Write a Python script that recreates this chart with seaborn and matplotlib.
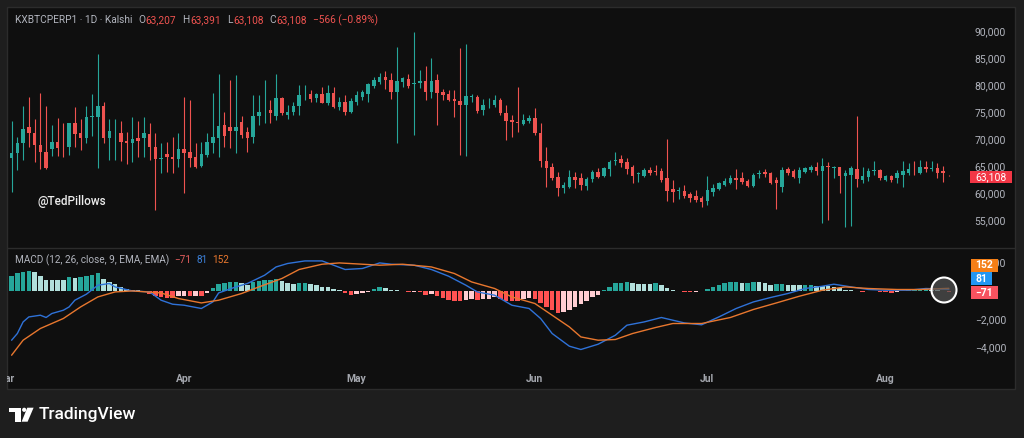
import numpy as np
import pandas as pd
import matplotlib
matplotlib.use("Agg")
import matplotlib.pyplot as plt
import seaborn as sns
from matplotlib.patches import Rectangle, Ellipse, Polygon
from matplotlib.lines import Line2D

# ---- daily candles, Mar 2 .. Aug 12 ----
opens = [
    66540, 67350, 69200, 72280, 71060, 68890, 67650, 68150, 69390, 68950,
    68570, 72910, 71060, 70130, 74050, 74130, 76110, 70130, 71400, 71170,
    69630, 69200, 70130, 70130, 70870, 68570, 66380, 67220, 66670, 66300,
    68150, 67650, 66670, 65000, 67040, 69310, 70130, 72590, 72280, 71540,
    73200, 71350, 70430, 74260, 75100, 75370, 74260, 77650, 74440, 75060,
    76110, 78100, 78280, 77540, 78280, 76610, 78460, 75980, 76800, 75060,
    76800, 77830, 78280, 79870, 80500, 81540, 80930, 78760, 80500, 81060,
    80250, 80320, 80740, 78760, 80930, 78760, 78330, 77410, 77040, 76300,
    77830, 77830, 75370, 76050, 76300, 77220, 74870, 73520, 73200, 72780,
    73390, 73830, 71170, 65980, 64870, 63020, 60870, 61170, 63020, 62720,
    61300, 62540, 63940, 63190, 64390, 65900, 66240, 65800, 64870, 63600,
    63150, 64260, 64000, 64070, 62720, 60740, 60370, 60430, 59810, 59440,
    59130, 58570, 60240, 60680, 61480, 61910, 62720, 62720, 62280, 61300,
    63600, 63890, 63650, 62410, 61040, 64390, 64130, 62720, 63830, 64260,
    64870, 64130, 64930, 64700, 64760, 63150, 63330, 64390, 62410, 63020,
    64050, 64260, 62410, 63150, 62720, 63330, 63650, 64320, 63760, 64760,
    64520, 64690, 64130, 63207]
highs = [
    73330, 70430, 76110, 77720, 73700, 78570, 76110, 72590, 73940, 73020,
    72960, 75980, 73700, 76110, 78280, 85690, 76800, 73700, 73700, 73330,
    71350, 74130, 73330, 74130, 73020, 71060, 69310, 69500, 70430, 71060,
    77830, 77220, 69200, 69500, 71060, 78460, 82040, 75060, 80930, 81850,
    74260, 72280, 78150, 78150, 80930, 77220, 82040, 77830, 76300, 76910,
    80000, 80000, 79070, 78460, 79690, 80000, 79690, 77830, 78150, 77540,
    78890, 79070, 80320, 81540, 82170, 82590, 82170, 87090, 81540, 81980,
    89870, 82780, 83570, 84940, 81980, 79200, 79070, 79070, 86800, 87540,
    78330, 78150, 77350, 77540, 78150, 77540, 76300, 74440, 79690, 74570,
    74440, 75690, 73020, 68570, 65500, 63940, 62090, 64260, 63940, 63650,
    63020, 64260, 64570, 64870, 66110, 67650, 67040, 66430, 65190, 63940,
    64570, 64870, 65190, 64570, 69940, 62410, 61060, 61480, 60240, 60560,
    59440, 63150, 61670, 62090, 62720, 63330, 64390, 63940, 62540, 63650,
    64260, 64390, 63940, 62910, 64870, 64760, 64390, 64870, 64870, 65190,
    65800, 66430, 65800, 65000, 64870, 64260, 65000, 74260, 64870, 64570,
    65980, 64390, 63330, 63330, 64260, 65980, 65610, 65980, 66110, 65980,
    65980, 65610, 65000, 63391]
lows = [
    60240, 64260, 66110, 68570, 65690, 64440, 64440, 66910, 66910, 66720,
    67040, 68570, 67960, 69200, 70610, 64690, 69200, 66110, 66110, 65930,
    65370, 65690, 66720, 66720, 66110, 56850, 63650, 63940, 63650, 64870,
    60000, 64870, 64570, 64850, 66720, 67350, 66720, 68570, 68330, 67410,
    70130, 67650, 69260, 72590, 72910, 72910, 73520, 74440, 73650, 74440,
    74440, 77220, 76910, 76910, 76610, 76300, 75690, 75370, 74440, 74760,
    76300, 77220, 76910, 79390, 80130, 79260, 77410, 69200, 79690, 79500,
    70740, 79500, 77220, 77540, 72590, 77220, 77040, 74130, 67040, 66910,
    76910, 74760, 74440, 75690, 75980, 74440, 69810, 70430, 71350, 72590,
    72910, 70740, 64870, 61170, 62410, 59440, 59940, 60870, 60870, 60560,
    60560, 62090, 62720, 63020, 63190, 65190, 64870, 63520, 61800, 62090,
    63020, 63330, 63330, 62090, 58570, 58390, 58830, 59020, 58390, 58390,
    57350, 57780, 59440, 60560, 61300, 61670, 60680, 61670, 61060, 61170,
    62720, 63020, 61670, 56980, 60240, 63330, 62720, 61800, 63650, 63940,
    63330, 54500, 55000, 62720, 60050, 53650, 53890, 61170, 61910, 62280,
    63330, 62410, 62280, 62090, 61910, 61060, 63330, 63330, 63520, 63940,
    64130, 62720, 62090, 63108]
closes = [
    67460, 69200, 71850, 71060, 68890, 67540, 64690, 69390, 68390, 68850,
    72910, 70870, 70130, 74130, 74200, 76110, 70130, 71480, 71550, 69500,
    69200, 69940, 69630, 71170, 68570, 66300, 66480, 66670, 66300, 68150,
    67410, 66430, 64810, 67220, 69500, 70430, 72410, 70560, 71480, 72220,
    70740, 70130, 74260, 75060, 75250, 74760, 77540, 74760, 75060, 76110,
    78150, 78200, 77350, 78280, 76720, 78460, 75980, 76800, 75060, 77040,
    78150, 78760, 80130, 80930, 81430, 80930, 78760, 80740, 81240, 79870,
    80380, 80740, 78760, 80740, 78460, 78150, 77220, 77040, 76300, 77960,
    78000, 75240, 76300, 76180, 77220, 74760, 73390, 73200, 72910, 73520,
    73830, 71170, 65980, 64570, 62720, 60870, 61480, 63020, 62410, 61480,
    62540, 63940, 63020, 64570, 65800, 66000, 65500, 64390, 63150, 63700,
    64260, 63760, 63900, 62410, 60430, 60240, 60480, 59440, 59020, 58700,
    58390, 60560, 60980, 61910, 62280, 62830, 62410, 62090, 61300, 63330,
    63700, 63520, 61910, 61800, 64260, 63760, 63020, 64260, 64690, 64870,
    64130, 65000, 64820, 64800, 63150, 63760, 64570, 62540, 63150, 64130,
    64180, 62720, 63150, 62410, 63650, 64130, 64390, 64200, 64760, 64390,
    64620, 63650, 63674, 63108]

# ---- MACD pane ----
hist = [
    1027, 1213, 1330, 1377, 1283, 1027, 760, 745, 735, 730,
    933, 863, 980, 1027, 1097, 1213, 793, 607, 467, 280,
    117, 47, 15, -20, -233, -373, -467, -537, -545, -373,
    -350, -373, -350, -373, -140, 163, 467, 560, 607, 630,
    513, 397, 630, 700, 747, 750, 793, 700, 560, 467,
    513, 515, 467, 397, 280, 233, 93, 10, -187, -303,
    -233, -187, -93, 93, 233, 210, 47, 10, -10, -93,
    -70, -117, -303, -233, -373, -537, -653, -700, -723, -653,
    -607, -653, -607, -600, -467, -607, -700, -723, -730, -607,
    -537, -607, -887, -1120, -1353, -1540, -1520, -1353, -1120, -933,
    -700, -467, -303, 10, 280, 513, 560, 630, 513, 467,
    460, 455, 513, 397, 163, 47, -10, -70, -75, -70,
    -65, 93, 233, 397, 560, 565, 570, 513, 560, 630,
    620, 513, 397, 443, 450, 397, 390, 385, 392, 400,
    350, 327, 320, 233, 163, 47, 40, -10, -93, -47,
    -45, -93, -117, -140, -93, -23, 47, 50, 93, 95,
    47, 30, -20, -71]
macd_days = [0, 1, 2, 3, 5, 6, 7, 9, 10, 11, 13, 15, 17, 18, 21, 24, 26, 28, 30, 33,
             35, 36, 39, 41, 44, 46, 48, 51, 54, 56, 58, 61, 64, 66, 70, 73, 76, 79, 81, 84,
             87, 90, 92, 94, 97, 99, 102, 105, 107, 110, 113, 115, 117, 120, 123, 126, 129, 132, 135, 138,
             141, 143, 146, 149, 152, 156, 159, 163]
macd_vals = [-3480, -3010, -2200, -1850, -1730, -1890, -1610, -1380, -1150, -680,
             -260, 370, 490, 250, -30, -100, -680, -960, -1030, -1260,
             -800, -170, 250, 490, 1070, 1650, 1890, 2070, 2070, 1770,
             1470, 1540, 1930, 1840, 1770, 1470, 1000, 370, -100, -330,
             -1030, -1260, -1960, -3010, -3900, -4130, -3760, -3130, -2430, -2200,
             -1890, -2080, -2270, -2400, -1850, -1260, -800, -490, -210, 140,
             300, 440, 250, 70, 20, 20, 140, 81]
signal_days = [0, 2, 5, 9, 12, 15, 18, 21, 26, 29, 33, 36, 40, 43, 47, 50, 54, 57, 61, 64,
               68, 73, 77, 80, 84, 87, 91, 94, 97, 99, 102, 105, 108, 112, 115, 120, 125, 129, 133, 137,
               141, 145, 149, 154, 158, 163]
signal_vals = [-4530, -3480, -2660, -1960, -1150, -450, -100, -30, -170, -560,
               -870, -680, -210, 250, 840, 1470, 1840, 1930, 1840, 1770,
               1840, 1650, 1190, 600, 140, -450, -910, -1730, -2550, -3250,
               -3480, -3430, -3010, -2590, -2310, -2310, -1890, -1330, -870, -400,
               20, 250, 140, 70, 70, 152]

price_ticks = [55000, 60000, 65000, 70000, 75000, 80000, 85000, 90000]
macd_ticks = [-4000, -2000, 2000]
months = ["2025-03-01", "2025-04-01", "2025-05-01", "2025-06-01", "2025-07-01", "2025-08-01"]
month_labels = ["Mar", "Apr", "May", "Jun", "Jul", "Aug"]

GREEN = "#26a69a"
RED = "#ef5350"
GRAY = "#b2b5be"
BG = "#0f0f0f"

W, H = 1024, 438


def fx(px):
    return px / W


def fy(py):
    return 1 - py / H


def text_row(fig, pieces, x0, y, size):
    """Lay coloured text pieces left to right, each after the one before."""
    renderer = fig.canvas.get_renderer()
    x = x0
    for t, gap, c in pieces:
        x += gap
        txt = fig.text(fx(x), fy(y), t, ha="left", va="center", fontsize=size, color=c)
        x = txt.get_window_extent(renderer).x1


sns.set_theme(style="dark", rc={"axes.facecolor": BG, "figure.facecolor": "#1e1e1e"})
plt.rcParams["font.family"] = ["Roboto", "DejaVu Sans"]

fig = plt.figure(figsize=(10.24, 4.38), dpi=100)
fig.add_artist(Rectangle((fx(7), fy(389)), (1015 - 7) / W, (389 - 7) / H,
                         transform=fig.transFigure, facecolor=BG,
                         edgecolor="#2c2c2c", lw=1, zorder=-5))

ax_p = fig.add_axes([fx(7), fy(247), (962 - 7) / W, (247 - 7) / H])
ax_m = fig.add_axes([fx(7), fy(389), (962 - 7) / W, (389 - 248) / H])
fig.add_artist(Line2D([fx(7), fx(1015)], [fy(247.5), fy(247.5)],
                      transform=fig.transFigure, color="#2c2c2c", lw=1))

dates = pd.date_range("2025-03-02", periods=len(closes), freq="D")
df = pd.DataFrame({"date": dates, "open": opens, "high": highs,
                   "low": lows, "close": closes})
up = df["close"] >= df["open"]
cols = np.where(up, GREEN, RED)
body_lo = np.minimum(df["open"], df["close"])
body_h = np.maximum((df["close"] - df["open"]).abs(), 130)

ax_p.vlines(df["date"], df["low"], df["high"], colors=cols, lw=0.8, zorder=2)
ax_p.bar(df["date"], body_h, bottom=body_lo, width=0.62, color=cols, linewidth=0, zorder=3)

x_left = dates[0] - pd.Timedelta(days=0.8)
x_right = dates[0] + pd.Timedelta(days=165.28)
for ax in (ax_p, ax_m):
    ax.set_xlim(x_left, x_right)
    ax.set_facecolor("none")
    ax.set_xticks([])
    for s in ax.spines.values():
        s.set_visible(False)
    ax.grid(False)

ax_p.set_ylim(50000, 94445)
ax_p.yaxis.tick_right()
ax_p.set_yticks(price_ticks)
ax_p.set_yticklabels([f"{v:,}" for v in price_ticks])

# MACD histogram, colour by sign and direction
hcols = []
for i, h in enumerate(hist):
    prev = hist[i - 1] if i > 0 else h
    if h >= 0:
        hcols.append("#26a69a" if h >= prev else "#b2dfdb")
    else:
        hcols.append("#ff5252" if h < prev else "#ffcdd2")
ax_m.bar(dates, hist, width=0.8, color=hcols, linewidth=0, zorder=2)

sns.lineplot(x=dates[macd_days], y=macd_vals, ax=ax_m, color="#2f72d8", lw=1, zorder=3)
sns.lineplot(x=dates[signal_days], y=signal_vals, ax=ax_m, color="#e8772e", lw=1, zorder=3)

ax_m.set_ylim(-6895, 2975)
ax_m.set_xlabel("")
ax_m.set_ylabel("")
ax_m.yaxis.tick_right()
ax_m.set_yticks(macd_ticks)
ax_m.set_yticklabels([f"{v:,}".replace("-", "\u2212") for v in macd_ticks])

for ax in (ax_p, ax_m):
    ax.tick_params(axis="y", length=0, pad=31.7, labelsize=7.5, labelcolor=GRAY)
    for lbl in ax.get_yticklabels():
        lbl.set_ha("right")

y_month = (290.5 - 379) * 70
for m, lab in zip(months, month_labels):
    ax_m.text(pd.Timestamp(m), y_month, lab, ha="center", va="center", fontsize=7.5,
              fontweight="bold", color="#a3a6ad", clip_on=True)

# header line
hdr = [("KXBTCPERP1 \u00b7 1D \u00b7 Kalshi", 0, GRAY), ("O", 6, GRAY), ("63,207", 0.5, RED),
       ("H", 6, GRAY), ("63,391", 0.5, RED), ("L", 6, GRAY), ("63,108", 0.5, RED),
       ("C", 6, GRAY), ("63,108", 0.5, RED), ("\u2212566 (\u22120.89%)", 6, RED)]
text_row(fig, hdr, 15, 20, 7.3)

mh = [("MACD (12, 26, close, 9, EMA, EMA)", 0, GRAY), ("\u221271", 5, "#e35d5d"),
      ("81", 5, "#3c80d8"), ("152", 5, "#e8772e")]
text_row(fig, mh, 15, 260, 7.2)

fig.text(fx(37), fy(202), "@TedPillows", ha="left", va="center", fontsize=8.5,
         color="#ececec", fontweight="medium")

# last price tag
fig.add_artist(Rectangle((fx(970), fy(183)), 42 / W, 12 / H, transform=fig.transFigure,
                         facecolor="#f23645", lw=0))
fig.text(fx(991), fy(177), "63,108", ha="center", va="center", fontsize=7.5, color="white")

# MACD value tags
for (t, y0, y1, w, c) in [("152", 259, 272, 27, "#f57f17"), ("81", 272, 285, 21, "#2196f3"),
                          ("\u221271", 286, 299, 27, "#f7525f")]:
    fig.add_artist(Rectangle((fx(971), fy(y1)), w / W, (y1 - y0) / H,
                             transform=fig.transFigure, facecolor=c, lw=0))
    fig.text(fx(971 + w / 2), fy((y0 + y1) / 2), t, ha="center", va="center",
             fontsize=7.5, color="white", fontweight="bold")

# highlight ring around the latest MACD values
fig.add_artist(Ellipse((fx(944), fy(290)), 25 / W, 25 / H, transform=fig.transFigure,
                       facecolor=(0.33, 0.33, 0.33, 0.7), edgecolor="white", lw=1.5))

# footer logo
tv = dict(transform=fig.transFigure, facecolor="white", lw=0)
fig.add_artist(Polygon([(fx(9.3), fy(407.7)), (fx(20.7), fy(407.7)), (fx(20.7), fy(421.7)),
                        (fx(15.3), fy(421.7)), (fx(15.3), fy(411.7)), (fx(9.3), fy(411.7))], **tv))
fig.add_artist(Ellipse((fx(24.2), fy(409.8)), 4.2 / W, 4.2 / H, **tv))
fig.add_artist(Polygon([(fx(27.3), fy(407.7)), (fx(33.6), fy(407.7)), (fx(27.6), fy(421.7)),
                        (fx(21.6), fy(421.7))], **tv))
fig.text(fx(39), fy(415), "TradingView", ha="left", va="center", fontsize=12.5,
         color="white", fontweight="medium")

fig.savefig("out.png", dpi=100, facecolor=fig.get_facecolor())
